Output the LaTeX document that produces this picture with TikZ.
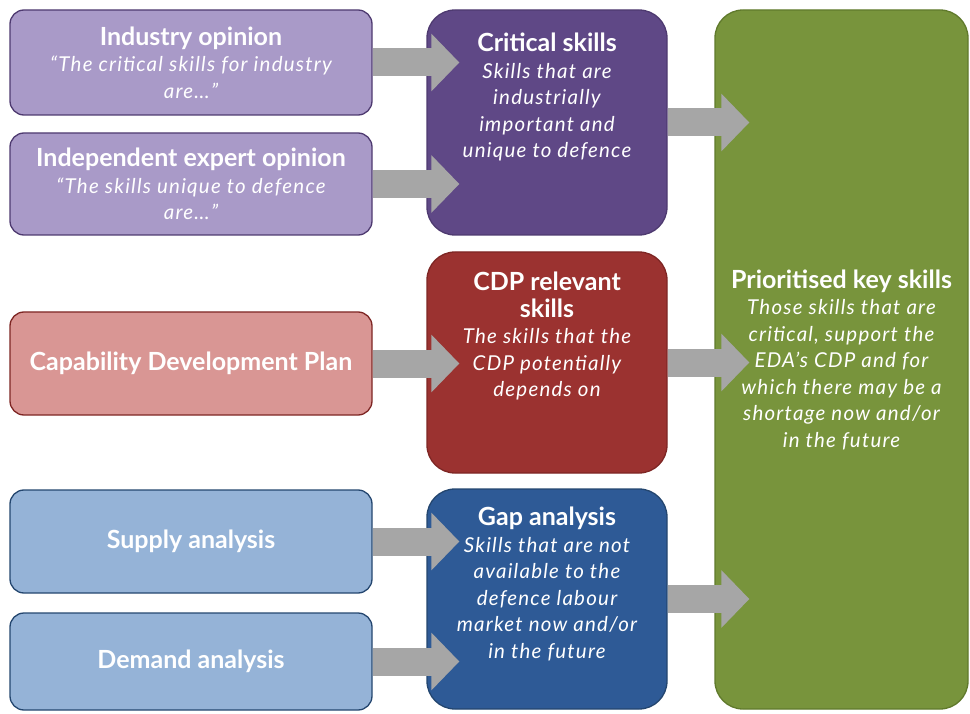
\documentclass[tikz,border=0pt]{standalone}
\usepackage{fontspec}
\setmainfont{Lato}
\usetikzlibrary{arrows.meta}
\definecolor{lilac}{HTML}{A99AC8}
\definecolor{plum}{HTML}{5F4886}
\definecolor{plumline}{HTML}{4E3A70}
\definecolor{rose}{HTML}{D99694}
\definecolor{wine}{HTML}{9B3230}
\definecolor{wineline}{HTML}{7E2624}
\definecolor{sky}{HTML}{95B3D7}
\definecolor{navy}{HTML}{2E5A96}
\definecolor{navyline}{HTML}{24466F}
\definecolor{olive}{HTML}{78943C}
\definecolor{oliveline}{HTML}{607A2C}
\definecolor{flowgray}{HTML}{A6A6A6}
\newcommand\hd{\upshape\bfseries\fontsize{25}{26.5}\selectfont\addfontfeature{LetterSpace=0}}
\begin{document}
\begin{tikzpicture}[x=1pt,y=-1pt,
  box/.style={draw,line width=1.3pt,rounded corners=14pt,inner sep=0pt,align=center,text=white,
    font=\itshape\fontsize{20.5}{26.5}\selectfont\addfontfeature{LetterSpace=6}},
  inbox/.style={box,minimum width=362pt},
  midbox/.style={box,rounded corners=28pt,minimum width=240pt},
  label/.style={align=center,text=white,inner sep=0pt,
    font=\itshape\fontsize{20.5}{26.5}\selectfont\addfontfeature{LetterSpace=6}},
  flow/.style={line width=28pt,draw=flowgray,-{Triangle[length=28pt,width=56pt]}}]

\useasboundingbox (0,0) rectangle (970,714);

\node[inbox,fill=lilac,draw=plumline,minimum height=105pt] (ind) at (191,62.5)
  {{\hd Industry opinion}\\ ``The critical skills for industry\\ are\dots''};
\node[inbox,fill=lilac,draw=plumline,minimum height=102pt] (exp) at (191,184)
  {{\hd Independent expert opinion}\\ ``The skills unique to defence\\ are\dots''};
\node[inbox,fill=rose,draw=wineline,minimum height=103pt] (plan) at (191,363.5)
  {\hd Capability Development Plan};
\node[inbox,fill=sky,draw=navyline,minimum height=103pt] (sup) at (191,541.5)
  {\hd Supply analysis};
\node[inbox,fill=sky,draw=navyline,minimum height=97pt] (dem) at (191,661.5)
  {\hd Demand analysis};

\node[midbox,fill=plum,draw=plumline,minimum height=225pt] (crit) at (547,122.5) {};
\node[midbox,fill=wine,draw=wineline,minimum height=221pt] (cdp) at (547,362.5) {};
\node[midbox,fill=navy,draw=navyline,minimum height=220pt] (gap) at (547,599) {};
\node[box,rounded corners=28pt,fill=olive,draw=oliveline,minimum width=253pt,minimum height=699pt] (prio) at (841.5,359.5)
  {{\hd Prioritised key skills}\\ Those skills that are\\ critical, support the\\ EDA's CDP and for\\
   which there may be a\\ shortage now and/or\\ in the future};

\node[label] (critText) at (547,97)
  {{\hd Critical skills}\\ Skills that are\\ industrially\\ important and\\ unique to defence};
\node[label] (cdpText) at (547,336)
  {{\hd CDP relevant}\\ {\hd skills}\\ The skills that the\\ CDP potentially\\ depends on};
\node[label] (gapText) at (547,584)
  {{\hd Gap analysis}\\ Skills that are not\\ available to the\\ defence labour\\
   market now and/or\\ in the future};

\draw[flow] (ind.east) -- ([xshift=33pt]ind.east -| crit.west);
\draw[flow] (exp.east) -- ([xshift=33pt]exp.east -| crit.west);
\draw[flow] (plan.east) -- ([xshift=33pt]plan.east -| cdp.west);
\draw[flow] (sup.east) -- ([xshift=33pt]sup.east -| gap.west);
\draw[flow] (dem.east) -- ([xshift=33pt]dem.east -| gap.west);

\draw[flow] (crit.east) -- ([xshift=35pt]crit.east -| prio.west);
\draw[flow] (cdp.east) -- ([xshift=35pt]cdp.east -| prio.west);
\draw[flow] (gap.east) -- ([xshift=35pt]gap.east -| prio.west);

\end{tikzpicture}
\end{document}
